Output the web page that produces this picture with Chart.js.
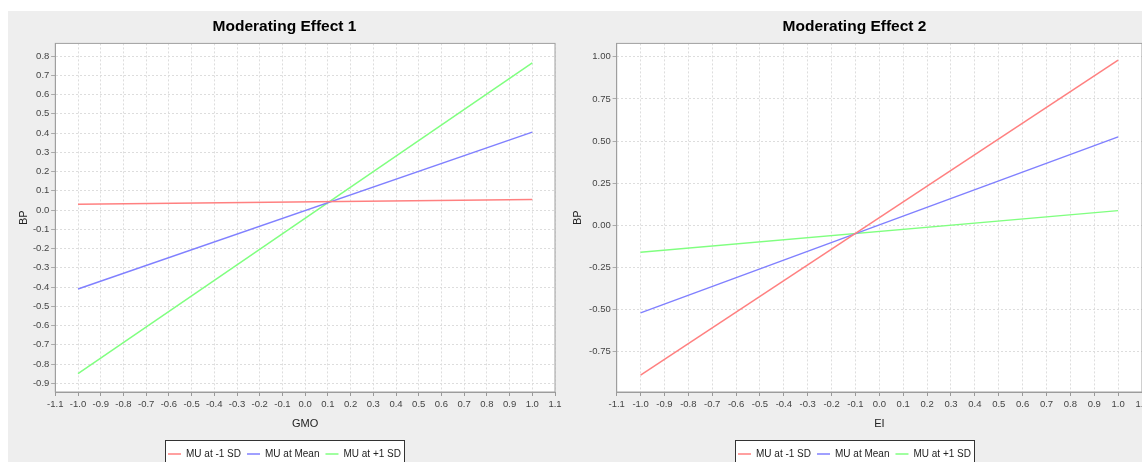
<!DOCTYPE html>
<html>
<head>
<meta charset="utf-8">
<script src="https://cdn.jsdelivr.net/npm/chart.js@4.4.1/dist/chart.umd.min.js"></script>
<style>
  html, body { margin: 0; padding: 0; background: #fff; overflow: hidden; width: 1142px; height: 462px; }
  canvas { position: absolute; background: #eeeeee; }
  #chart1 { left: 8px; top: 11px; }
  #chart2 { left: 567px; top: 11px; }
</style>
</head>
<body>
<canvas id="chart1" width="559" height="458"></canvas>
<canvas id="chart2" width="600" height="458"></canvas>
<script>
// --- data ---
const xEnds = [-1.0, 1.0];
const seriesNames = ["MU at -1 SD", "MU at Mean", "MU at +1 SD"];
const seriesColors = ["#ff8080", "#8080ff", "#80ff80"];

// Moderating Effect 1 (x: GMO)
const eff1Low = [0.030, 0.055];
const eff1Mean = [-0.410, 0.405];
const eff1High = [-0.850, 0.765];

// Moderating Effect 2 (x: EI)
const eff2Low = [-0.890, 0.980];
const eff2Mean = [-0.520, 0.525];
const eff2High = [-0.160, 0.087];

const FONT = "'Liberation Sans', Arial, sans-serif";

// white plot area, white legend box with dark border, plot outline
const panelLook = {
  id: "panelLook",
  beforeDraw(chart) {
    const { ctx, chartArea: a } = chart;
    ctx.save();
    ctx.fillStyle = "#ffffff";
    ctx.fillRect(a.left, a.top, a.right - a.left, a.bottom - a.top);
    const boxes = chart.legend.legendHitBoxes;
    if (boxes && boxes.length) {
      const l = Math.min(...boxes.map(b => b.left)) - 3;
      const r = Math.max(...boxes.map(b => b.left + b.width)) + 3;
      const t = boxes[0].top - 9;
      const b = chart.height + 5;
      ctx.fillRect(l, t, r - l, b - t);
      ctx.strokeStyle = "#333333";
      ctx.lineWidth = 1;
      ctx.strokeRect(Math.round(l) + 0.5, Math.round(t) + 0.5, Math.round(r - l), b - t);
    }
    ctx.restore();
  },
  afterDraw(chart) {
    const { ctx, chartArea: a } = chart;
    ctx.save();
    ctx.strokeStyle = "#a0a0a0";
    ctx.lineWidth = 1;
    ctx.strokeRect(a.left, a.top, a.right - a.left, a.bottom - a.top);
    ctx.restore();
  }
};

function toPoints(vals) {
  return xEnds.map((x, i) => ({ x, y: vals[i] }));
}

function buildConfig(opts) {
  const datasets = opts.series.map((vals, i) => ({
    label: seriesNames[i],
    data: toPoints(vals),
    borderColor: seriesColors[i],
    backgroundColor: seriesColors[i],
    borderWidth: 1.5,
    pointRadius: 0,
    pointStyle: "line",
    tension: 0
  }));

  return {
    type: "line",
    data: { datasets },
    plugins: [panelLook],
    options: {
      responsive: false,
      animation: false,
      layout: { padding: opts.padding },
      plugins: {
        title: {
          display: true,
          text: opts.title,
          color: "#000",
          font: { family: FONT, size: 15.5, weight: "bold", lineHeight: 1.316 },
          padding: { top: 6, bottom: 6 }
        },
        legend: {
          position: "bottom",
          labels: {
            usePointStyle: true,
            pointStyleWidth: 13,
            padding: 6,
            color: "#222",
            font: { family: FONT, size: 10 }
          }
        },
        tooltip: { enabled: false }
      },
      scales: {
        x: {
          type: "linear",
          min: -1.1,
          max: 1.1,
          afterFit: s => { s.height = 51; },
          ticks: {
            stepSize: 0.1,
            autoSkip: false,
            maxRotation: 0,
            includeBounds: false,
            padding: 3,
            color: "#444",
            font: { family: FONT, size: 9.5 },
            callback: v => Math.abs(v) < 1e-9 ? "0.0" : Number(v).toFixed(1)
          },
          grid: { color: "#dddddd", tickColor: "#999", tickLength: 4, tickBorderDash: [1, 0] },
          border: { color: "#999", dash: [2, 2] },
          title: {
            display: true,
            text: opts.xTitle,
            color: "#222",
            font: { family: FONT, size: 11 },
            padding: { top: 0, bottom: 12 }
          }
        },
        y: {
          type: "linear",
          min: opts.yMin,
          max: opts.yMax,
          afterFit: s => { s.width = opts.yWidth; },
          ticks: {
            stepSize: opts.yStep,
            autoSkip: false,
            includeBounds: false,
            padding: 2,
            color: "#444",
            font: { family: FONT, size: 9.5 },
            callback: v => {
              const s = Number(v).toFixed(opts.yDigits);
              return Number(s) === 0 ? (0).toFixed(opts.yDigits) : s;
            }
          },
          grid: { color: "#dddddd", tickColor: "#999", tickLength: 4, tickBorderDash: [1, 0] },
          border: { color: "#999", dash: [2, 2] },
          title: {
            display: true,
            text: "BP",
            color: "#222",
            font: { family: FONT, size: 11 },
            padding: { top: opts.yTitlePad, bottom: 0 }
          }
        }
      }
    }
  };
}

new Chart(document.getElementById("chart1"), buildConfig({
  title: "Moderating Effect 1",
  xTitle: "GMO",
  series: [eff1Low, eff1Mean, eff1High],
  yMin: -0.945, yMax: 0.866, yStep: 0.1, yDigits: 1,
  yWidth: 41.3, yTitlePad: 3,
  padding: { left: 6, right: 12, top: 0, bottom: 0 }
}));

new Chart(document.getElementById("chart2"), buildConfig({
  title: "Moderating Effect 2",
  xTitle: "EI",
  series: [eff2Low, eff2Mean, eff2High],
  yMin: -0.99, yMax: 1.08, yStep: 0.25, yDigits: 2,
  yWidth: 49.7, yTitlePad: 4,
  padding: { left: 0, right: 25, top: 0, bottom: 0 }
}));
</script>
</body>
</html>
